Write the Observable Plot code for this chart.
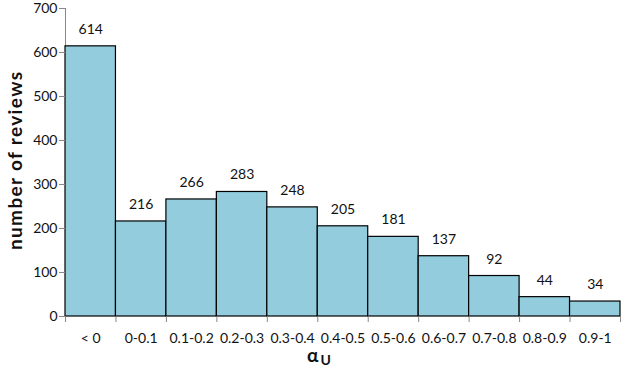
<!DOCTYPE html>
<html><head><meta charset="utf-8">
<script src="https://cdn.jsdelivr.net/npm/d3@7"></script>
<script src="https://cdn.jsdelivr.net/npm/@observablehq/plot@0.6"></script>
<style>body{margin:0;background:#fff}</style>
</head><body><div id="chart"></div>
<script>
const categories = ["< 0","0-0.1","0.1-0.2","0.2-0.3","0.3-0.4","0.4-0.5","0.5-0.6","0.6-0.7","0.7-0.8","0.8-0.9","0.9-1"];
const counts = [614,216,266,283,248,205,181,137,92,44,34];
const yTicks = [0,100,200,300,400,500,600,700];

const data = categories.map((c,i)=>({cat:c, i, v:counts[i]}));
const font = "Lato, 'Open Sans', sans-serif";
const plot = Plot.plot({
  width: 622, height: 370,
  marginLeft: 65, marginRight: 2, marginTop: 8, marginBottom: 54,
  style: {fontFamily: font, fontSize: "14px", color: "#111", background: "#fff"},
  x: {type: "linear", domain: [0, categories.length], axis: null},
  y: {domain: [0,700], axis: null},
  marks: [
    Plot.ruleX([0], {stroke: "#888"}),
    Plot.rectY(data, {x1: "i", x2: d => d.i + 1, y: "v", fill: "#93CDDD", stroke: "#000", strokeWidth: 1.2}),
    Plot.axisY({ticks: yTicks, tickSize: 6, stroke: "#888", tickPadding: 2, fontSize: 14, fill: "#111", label: null}),
    Plot.axisX({ticks: d3.range(categories.length + 1), tickFormat: () => "", tickSize: 6, stroke: "#888", label: null}),
    Plot.text(data, {x: d => d.i + 0.5, y: 0, text: "cat", dy: 22, fontSize: 14, fill: "#111"}),
    Plot.text(data, {x: d => d.i + 0.5, y: "v", text: d => String(d.v), dy: -17, fontSize: 14, fill: "#111"}),
  ]
});
const svg = d3.select(plot);
svg.append("text").attr("transform","translate(22,161) rotate(-90)").attr("text-anchor","middle")
  .attr("font-family", font).attr("font-weight","bold").attr("font-size","19px").attr("fill","#111")
  .attr("textLength", 178).attr("lengthAdjust", "spacing")
  .text("number of reviews");
const xl = svg.append("text").attr("x",319).attr("y",362)
  .attr("font-family", font).attr("font-weight","bold").attr("font-size","19px").attr("fill","#111");
xl.append("tspan").text("α");
xl.append("tspan").attr("dy",3).attr("dx",2).attr("font-size","14px").text("U");
document.getElementById("chart").append(plot);
</script></body></html>
